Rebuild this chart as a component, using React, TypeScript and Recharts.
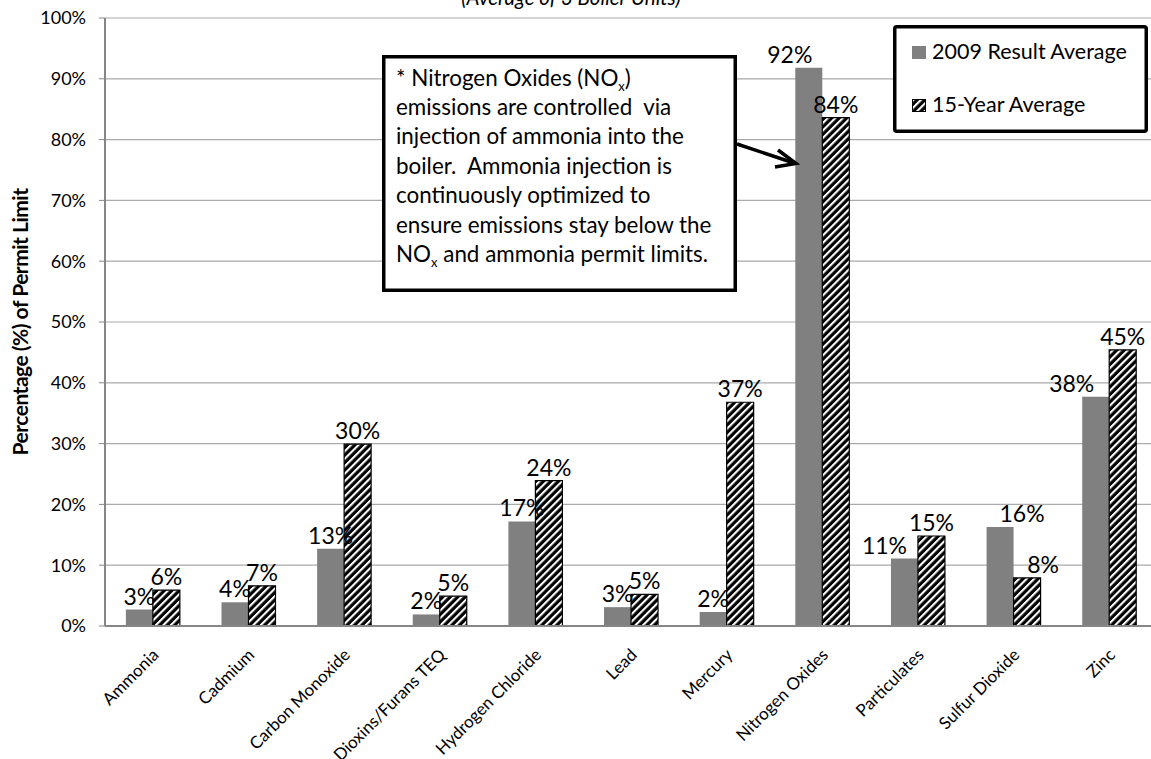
import React from 'react';
import { BarChart, Bar, XAxis, YAxis, CartesianGrid, LabelList } from 'recharts';

const categories = [
  'Ammonia', 'Cadmium', 'Carbon Monoxide', 'Dioxins/Furans TEQ', 'Hydrogen Chloride',
  'Lead', 'Mercury', 'Nitrogen Oxides', 'Particulates', 'Sulfur Dioxide', 'Zinc',
];
const result2009 = [2.7, 3.9, 12.7, 1.9, 17.2, 3.1, 2.3, 91.8, 11.1, 16.3, 37.7];
const avg15Year = [5.9, 6.6, 29.9, 4.9, 23.9, 5.2, 36.8, 83.6, 14.8, 7.9, 45.4];
const yTicks = [0, 10, 20, 30, 40, 50, 60, 70, 80, 90, 100];

// labels that were nudged sideways in the original (px)
const resultLabelNudge: Record<string, number> = { 'Nitrogen Oxides': -19, Particulates: -20, 'Sulfur Dioxide': 22, Zinc: -24 };
const avgLabelNudge: Record<string, number> = { 'Sulfur Dioxide': 16 };

const FONT = 'Lato, "Open Sans", sans-serif';

const data = categories.map((name, i) => ({
  name,
  result: result2009[i],
  avg: avg15Year[i],
}));

const makeLabel = (nudge: Record<string, number>) => (props: any) => {
  const { x, y, width, value, index } = props;
  const dx = nudge[categories[index]] || 0;
  return (
    <text
      x={Number(x) + Number(width) / 2 + dx}
      y={Number(y) - 5}
      textAnchor="middle"
      fontSize={23}
      fontFamily={FONT}
      fill="#000"
    >
      {`${Math.round(Number(value))}%`}
    </text>
  );
};

const XTick = (props: any) => {
  const { x, y, payload } = props;
  return (
    <g transform={`translate(${x + 7},${y + 30})`}>
      <text textAnchor="end" transform="rotate(-45)" fontSize={17} fill="#000" fontFamily={FONT}>
        {payload.value}
      </text>
    </g>
  );
};

const YLabel = (props: any) => {
  const vb = props.viewBox || {};
  const cy = vb.y + vb.height / 2;
  return (
    <text
      x={0}
      y={0}
      transform={`translate(28,${cy}) rotate(-90)`}
      textAnchor="middle"
      fontSize={21}
      fontWeight="bold"
      letterSpacing={-0.5}
      fontFamily={FONT}
      fill="#000"
    >
      Percentage (%) of Permit Limit
    </text>
  );
};

const noteLines = [
  ['* Nitrogen Oxides (NO', 'x', ')'],
  ['emissions are controlled\u00a0 via'],
  ['injection of ammonia into the'],
  ['boiler.\u00a0 Ammonia injection is'],
  ['continuously optimized to'],
  ['ensure emissions stay below the'],
  ['NO', 'x', ' and ammonia permit limits.'],
];

export default function App() {
  return (
    <div
      style={{
        position: 'absolute',
        left: 0,
        top: 0,
        width: 1151,
        height: 759,
        overflow: 'hidden',
        background: '#fff',
      }}
    >
      <svg width={0} height={0} style={{ position: 'absolute' }}>
        <defs>
          <pattern id="hatch" patternUnits="userSpaceOnUse" width={5.3} height={5.3} patternTransform="rotate(45)">
            <rect width={5.3} height={5.3} fill="#000" />
            <rect x={0} y={0} width={2.1} height={5.3} fill="#fff" />
          </pattern>
        </defs>
      </svg>
      <BarChart
        width={1157}
        height={759}
        data={data}
        margin={{ top: 18, right: 0, left: 45, bottom: 0 }}
        barCategoryGap="21.8%"
        barGap={0}
      >
        <text x={571} y={5} textAnchor="middle" fontSize={20.5} fontStyle="italic" fontFamily={FONT} fill="#000">
          (Average of 3 Boiler Units)
        </text>
        <CartesianGrid vertical={false} stroke="#aaaaaa" strokeWidth={1.2} />
        <XAxis
          dataKey="name"
          interval={0}
          height={133}
          tick={<XTick />}
          tickLine={false}
          tickSize={0}
          tickMargin={0}
          axisLine={{ stroke: '#868686', strokeWidth: 2 }}
        />
        <YAxis
          domain={[0, 100]}
          ticks={yTicks}
          width={60}
          tickFormatter={(v) => `${v}%`}
          tick={{ fontSize: 18, fill: '#000', fontFamily: FONT }}
          tickSize={6}
          tickMargin={13}
          tickLine={{ stroke: '#868686' }}
          axisLine={{ stroke: '#868686', strokeWidth: 2 }}
          label={<YLabel />}
        />
        <Bar dataKey="result" name="2009 Result Average" fill="#808080" isAnimationActive={false}>
          <LabelList dataKey="result" content={makeLabel(resultLabelNudge)} />
        </Bar>
        <Bar dataKey="avg" name="15-Year Average" fill="url(#hatch)" stroke="#000" strokeWidth={1.2} isAnimationActive={false}>
          <LabelList dataKey="avg" content={makeLabel(avgLabelNudge)} />
        </Bar>
      </BarChart>
      <svg width={1151} height={759} style={{ position: 'absolute', left: 0, top: 0, pointerEvents: 'none' }}>
        {/* legend */}
        <rect x={894.75} y={26.75} width={251.5} height={104.5} rx={2} fill="#fff" stroke="#000" strokeWidth={3.5} />
        <rect x={912} y={46} width={14} height={13} fill="#808080" />
        <text x={932} y={59} fontSize={21.5} fontFamily={FONT} fill="#000">2009 Result Average</text>
        <rect x={912.5} y={99.5} width={13} height={12} fill="url(#hatch)" stroke="#000" strokeWidth={1} />
        <text x={932} y={112} fontSize={21.5} fontFamily={FONT} fill="#000">15-Year Average</text>

        {/* note box */}
        <rect x={383.75} y={56.75} width={351.5} height={233.5} fill="#fff" stroke="#000" strokeWidth={3.5} />
        {noteLines.map((parts, i) => (
          <text key={i} x={396} y={85.5 + i * 29.4} fontSize={22.4} fontFamily={FONT} fill="#000" xmlSpace="preserve">
            {parts.length === 1 ? (
              parts[0]
            ) : (
              <>
                <tspan>{parts[0]}</tspan>
                <tspan dy={5} fontSize={13}>{parts[1]}</tspan>
                <tspan dy={-5}>{parts[2]}</tspan>
              </>
            )}
          </text>
        ))}

        {/* arrow */}
        <line x1={737} y1={144} x2={794} y2={163} stroke="#000" strokeWidth={3.5} />
        <polyline points="778,150 796,163.5 775,167" fill="none" stroke="#000" strokeWidth={3.5} strokeLinejoin="miter" />
      </svg>
    </div>
  );
}
